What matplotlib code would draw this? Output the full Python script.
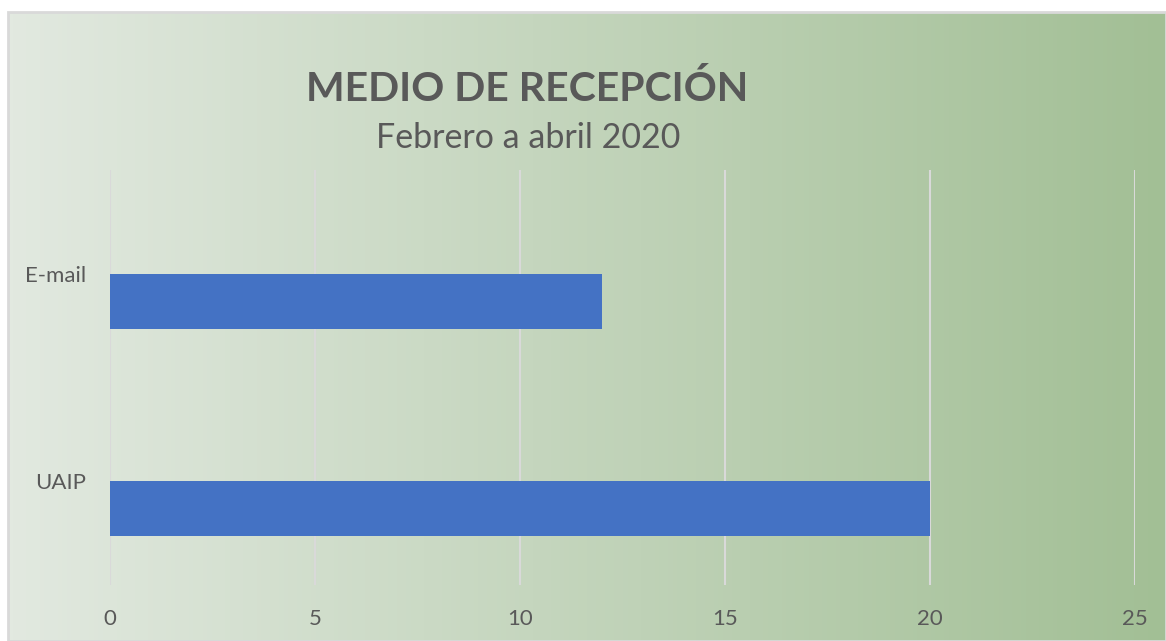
import numpy as np
import matplotlib
matplotlib.use("Agg")
from matplotlib import pyplot as plt
from matplotlib.patches import Rectangle

categories = ["E-mail", "UAIP"]
values = [12, 20]
xticks = [0, 5, 10, 15, 20, 25]

title = "MEDIO DE RECEPCIÓN"
subtitle = "Febrero a abril 2020"

plt.rcParams['font.family'] = ['Lato', 'DejaVu Sans']
txt = "#595959"

fig = plt.figure(figsize=(11.66, 6.41), dpi=100)
fig.patch.set_facecolor("white")

# chart area background: horizontal gradient, starts a few px in from the top-left
bg = fig.add_axes([8/1166, 0, 1 - 8/1166, 1 - 12/641])
bg.set_axis_off()
left_c = np.array([226, 233, 224]) / 255
right_c = np.array([162, 191, 149]) / 255
t = np.linspace(0, 1, 256)
grad = (left_c[None, :] * (1 - t[:, None]) + right_c[None, :] * t[:, None])[None, :, :]
bg.imshow(grad, aspect="auto", extent=[0, 1, 0, 1])
bg.add_patch(Rectangle((0, 0), 1, 1, fill=False, edgecolor="#d9d9d9", lw=2,
                       transform=bg.transAxes, clip_on=False))

ax = fig.add_axes([110/1166, 1 - 585/641, (1135 - 110)/1166, (585 - 170)/641])
ax.set_facecolor("none")
ypos = np.arange(len(categories))
# bars sit just below the category centre (Excel-style offset)
ax.barh(ypos, values, height=0.265, align="edge", color="#4472c4", zorder=3)
ax.set_xlim(0, 25)
ax.set_ylim(len(categories) - 0.5, -0.5)
ax.set_xticks(xticks)
ax.set_yticks(ypos)
ax.set_yticklabels(categories)
ax.grid(axis="x", color="#d9d9d9", lw=1.5, zorder=0)
ax.grid(axis="y", visible=False)
for s in ax.spines.values():
    s.set_visible(False)
ax.tick_params(length=0, labelsize=16, labelcolor=txt)
ax.tick_params(axis="x", pad=17)
ax.tick_params(axis="y", pad=17)

fig.text(527/1166, 1 - 101/641, title, ha="center", va="baseline",
         fontsize=29.5, fontweight="bold", color=txt)
fig.text(528/1166, 1 - 148/641, subtitle, ha="center", va="baseline",
         fontsize=24.5, color=txt)

fig.savefig("out.png", dpi=100)
